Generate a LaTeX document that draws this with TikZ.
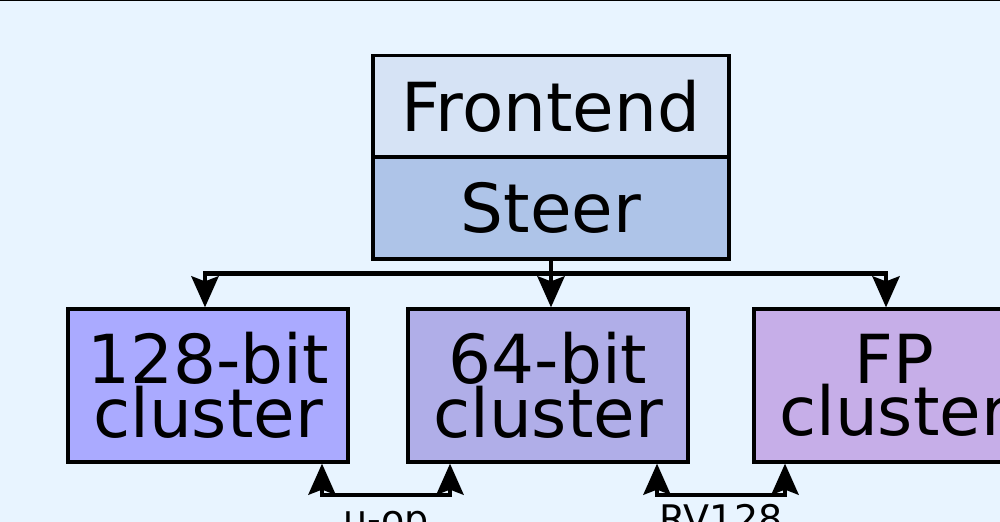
\documentclass[tikz,border=0pt]{standalone}
\usepackage{fontspec}
\setmainfont{DejaVu Sans}
\usetikzlibrary{arrows.meta}
\definecolor{bgc}{HTML}{E8F4FF}
\definecolor{fec}{HTML}{D6E3F5}
\definecolor{stc}{HTML}{AEC4E8}
\definecolor{cac}{HTML}{AAAAFF}
\definecolor{cbc}{HTML}{B0AEE8}
\definecolor{ccc}{HTML}{C6AEE8}
\tikzset{tip/.tip={Stealth[length=15.5pt,width=13.5pt,inset=2.5pt]}}
\begin{document}
\begin{tikzpicture}[x=0.5pt,y=-0.5pt,
  box/.style={draw=black,line width=1.6pt,minimum width=178pt,inner sep=0pt,align=center},
  topbox/.style={box,minimum height=51pt,font=\fontsize{33.8}{26}\selectfont},
  clbox/.style={box,minimum width=140pt,minimum height=76.5pt,font=\fontsize{33.8}{26}\selectfont},
  wire/.style={line width=2.4pt,line cap=rect},
  conn/.style={line width=2.4pt,-tip},
  lbl/.style={font=\fontsize{19}{22}\selectfont,inner sep=0pt}]
\clip (0,0) rectangle (1000,522);
\fill[bgc] (0,0) rectangle (1000,522);
\draw[line width=1pt] (0,0.5) -- (1000,0.5);
\node[topbox,fill=fec] (fe) at (551,106.5) {Frontend};
\node[topbox,fill=stc] (st) at (551,208) {Steer};
\node[clbox,fill=cac] (ca) at (208,385.5) {128-bit\\cluster};
\node[clbox,fill=cbc] (cb) at (548,385.5) {64-bit\\cluster};
\node[clbox,fill=ccc] (cc) at (894,385.5) {FP\\cluster};
\coordinate (j) at (551,273.5);
\coordinate (ja) at (205,273.5);
\coordinate (jc) at (886,273.5);
\draw[wire] (st.south) -- (j);
\draw[wire] (ja) -- (jc);
\draw[conn] (ja) -- (ca.north -| ja);
\draw[conn] (j) -- (cb.north -| j);
\draw[conn] (jc) -- (cc.north -| jc);
\coordinate (u1) at (322,495);
\coordinate (u2) at (450,495);
\coordinate (r1) at (657,495);
\coordinate (r2) at (785,495);
\draw[wire] (u1) -- (u2);
\draw[wire] (r1) -- (r2);
\draw[conn] (u1) -- (ca.south -| u1);
\draw[conn] (u2) -- (cb.south -| u2);
\draw[conn] (r1) -- (cb.south -| r1);
\draw[conn] (r2) -- (cc.south -| r2);
\node[lbl,anchor=base] (ul) at (386,533) {u-op};
\node[lbl,anchor=base] (rl) at (721,533) {RV128};
\end{tikzpicture}
\end{document}
